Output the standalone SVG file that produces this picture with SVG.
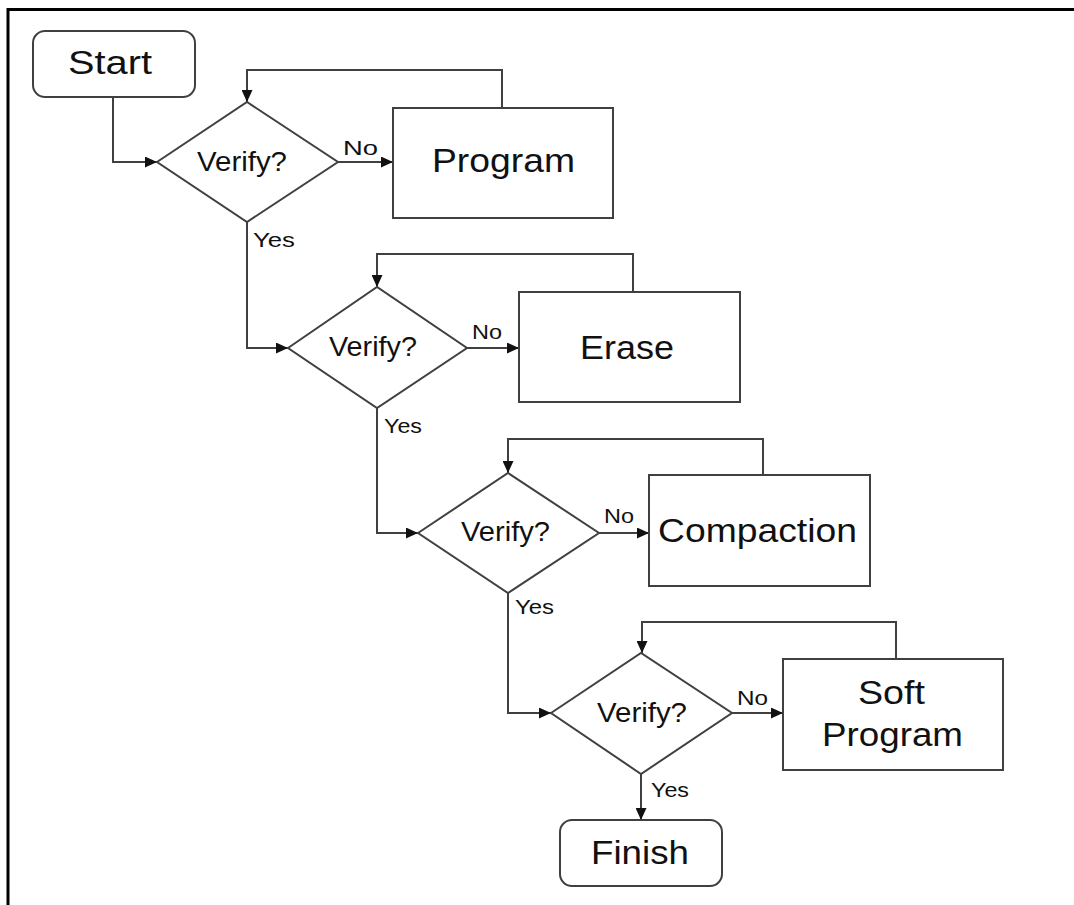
<svg xmlns="http://www.w3.org/2000/svg" width="1074" height="905" viewBox="0 0 1074 905">
<style>
.shape{fill:#fff;stroke:#404040;stroke-width:2}
.conn{fill:none;stroke:#404040;stroke-width:2}
text{font-family:"Liberation Sans",Arial,sans-serif;fill:#111}
.big{font-size:33px}
.mid{font-size:27px}
.sm{font-size:21px}
</style>
<defs>
<marker id="arr" markerUnits="userSpaceOnUse" markerWidth="13" markerHeight="11" refX="12" refY="5.5" orient="auto">
<path d="M0,0 L12,5.5 L0,11 z" fill="#111"/>
</marker>
</defs>
<rect width="1074" height="905" fill="#fff"/>
<path d="M8,905 V9.5 H1074" fill="none" stroke="#000" stroke-width="3"/>

<g id="connectors">
<path class="conn" d="M113,97 V162 H157" marker-end="url(#arr)"/>
<path class="conn" d="M338,162 H393" marker-end="url(#arr)"/>
<path class="conn" d="M502,108 V70 H247 V102" marker-end="url(#arr)"/>
<path class="conn" d="M247,222 V348 H288" marker-end="url(#arr)"/>
<path class="conn" d="M467,348 H519" marker-end="url(#arr)"/>
<path class="conn" d="M633,291 V254 H377 V287" marker-end="url(#arr)"/>
<path class="conn" d="M377,408 V533 H418" marker-end="url(#arr)"/>
<path class="conn" d="M599,533 H649" marker-end="url(#arr)"/>
<path class="conn" d="M763,475 V439 H508 V473" marker-end="url(#arr)"/>
<path class="conn" d="M508,593 V713 H551" marker-end="url(#arr)"/>
<path class="conn" d="M732,713 H783" marker-end="url(#arr)"/>
<path class="conn" d="M896,659 V622 H642 V653" marker-end="url(#arr)"/>
<path class="conn" d="M641,774 V820" marker-end="url(#arr)"/>
<text class="sm" x="343" y="155" textLength="35" lengthAdjust="spacingAndGlyphs">No</text>
<text class="sm" x="253" y="247" textLength="42" lengthAdjust="spacingAndGlyphs">Yes</text>
<text class="sm" x="472" y="339" textLength="30" lengthAdjust="spacingAndGlyphs">No</text>
<text class="sm" x="384" y="433" textLength="38" lengthAdjust="spacingAndGlyphs">Yes</text>
<text class="sm" x="604" y="523" textLength="30" lengthAdjust="spacingAndGlyphs">No</text>
<text class="sm" x="515" y="614" textLength="39" lengthAdjust="spacingAndGlyphs">Yes</text>
<text class="sm" x="737" y="705" textLength="31" lengthAdjust="spacingAndGlyphs">No</text>
<text class="sm" x="651" y="797" textLength="38" lengthAdjust="spacingAndGlyphs">Yes</text>
</g>

<g id="start">
<rect class="shape" x="33" y="31" width="162" height="66" rx="12"/>
<text class="big" x="68" y="74" textLength="84" lengthAdjust="spacingAndGlyphs">Start</text>
</g>
<g id="verify1">
<polygon class="shape" points="157,162 247,102 338,162 247,222"/>
<text class="mid" x="197" y="171" textLength="90" lengthAdjust="spacingAndGlyphs">Verify?</text>
</g>
<g id="program">
<rect class="shape" x="393" y="108" width="220" height="110"/>
<text class="big" x="432" y="172" textLength="143" lengthAdjust="spacingAndGlyphs">Program</text>
</g>
<g id="verify2">
<polygon class="shape" points="288,348 377,287 467,348 377,408"/>
<text class="mid" x="329" y="356" textLength="88" lengthAdjust="spacingAndGlyphs">Verify?</text>
</g>
<g id="erase">
<rect class="shape" x="519" y="292" width="221" height="110"/>
<text class="big" x="580" y="359" textLength="94" lengthAdjust="spacingAndGlyphs">Erase</text>
</g>
<g id="verify3">
<polygon class="shape" points="418,533 508,473 599,533 508,593"/>
<text class="mid" x="461" y="541" textLength="89" lengthAdjust="spacingAndGlyphs">Verify?</text>
</g>
<g id="compaction">
<rect class="shape" x="649" y="475" width="221" height="111"/>
<text class="big" x="658" y="542" textLength="199" lengthAdjust="spacingAndGlyphs">Compaction</text>
</g>
<g id="verify4">
<polygon class="shape" points="551,713 641,653 732,713 641,774"/>
<text class="mid" x="597" y="722" textLength="90" lengthAdjust="spacingAndGlyphs">Verify?</text>
</g>
<g id="softprogram">
<rect class="shape" x="783" y="659" width="220" height="111"/>
<text class="big" x="858" y="704" textLength="67" lengthAdjust="spacingAndGlyphs">Soft</text>
<text class="big" x="822" y="746" textLength="141" lengthAdjust="spacingAndGlyphs">Program</text>
</g>
<g id="finish">
<rect class="shape" x="560" y="820" width="162" height="66" rx="12"/>
<text class="big" x="591" y="864" textLength="98" lengthAdjust="spacingAndGlyphs">Finish</text>
</g>
</svg>
